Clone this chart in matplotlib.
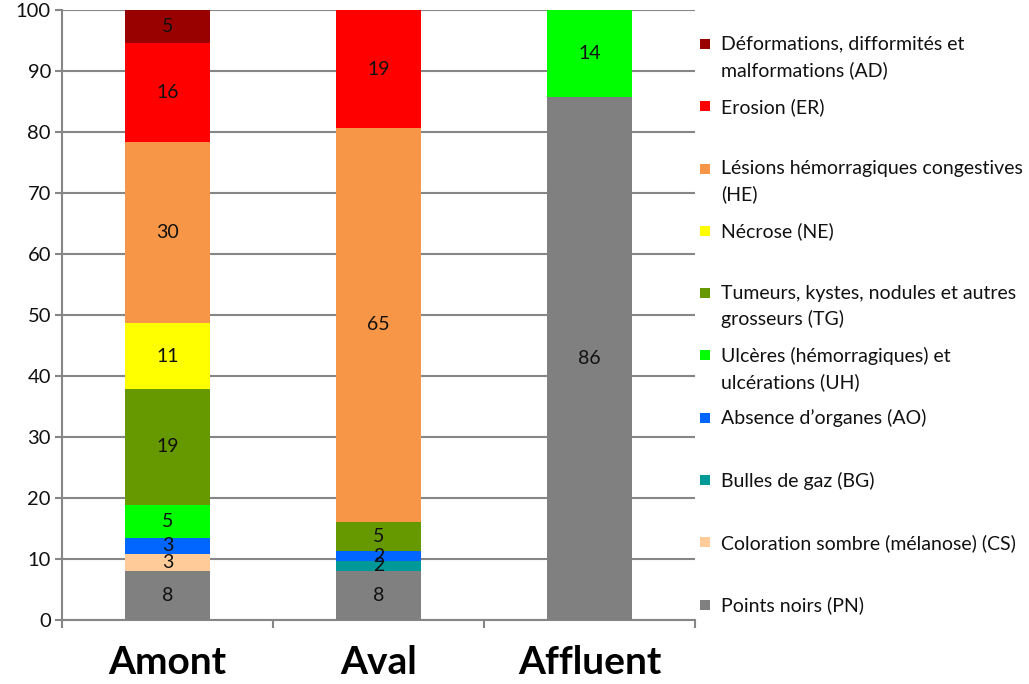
import matplotlib
matplotlib.use("Agg")
import matplotlib.pyplot as plt
from matplotlib.patches import Rectangle

plt.rcParams['font.family'] = ['Lato', 'DejaVu Sans']

# stations along the x axis
sites = ["Amont", "Aval", "Affluent"]

# anomaly categories, stacked bottom to top
codes = ["PN", "CS", "BG", "AO", "UH", "TG", "NE", "HE", "ER", "AD"]
names = [
    "Points noirs (PN)",
    "Coloration sombre (mélanose) (CS)",
    "Bulles de gaz (BG)",
    "Absence d\u2019organes (AO)",
    "Ulcères (hémorragiques) et\nulcérations (UH)",
    "Tumeurs, kystes, nodules et autres\ngrosseurs (TG)",
    "Nécrose (NE)",
    "Lésions hémorragiques congestives\n(HE)",
    "Erosion (ER)",
    "Déformations, difformités et\nmalformations (AD)",
]
colors = ["#808080", "#FFCC99", "#009999", "#0066FF", "#00FF00",
          "#669900", "#FFFF00", "#F79646", "#FF0000", "#990000"]

# percentage of each anomaly per station (same order as codes)
amont = [8.11, 2.70, 0, 2.70, 5.41, 18.92, 10.81, 29.73, 16.22, 5.41]
aval = [8.06, 0, 1.61, 1.61, 0, 4.84, 0, 64.52, 19.35, 0]
affluent = [85.71, 0, 0, 0, 14.29, 0, 0, 0, 0, 0]

values = [amont, aval, affluent]

fig = plt.figure(figsize=(10.29, 6.84), dpi=100)
ax = fig.add_axes([0.0603, 0.0936, 0.615, 0.8918])

x = list(range(len(sites)))
bottoms = [0.0] * len(sites)
for k, code in enumerate(codes):
    heights = [v[k] for v in values]
    ax.bar(x, heights, bottom=bottoms, width=0.4, color=colors[k],
           linewidth=0, zorder=3)
    for i, h in enumerate(heights):
        if h > 0:
            ax.text(x[i], bottoms[i] + h / 2, "%.0f" % h, ha="center",
                    va="center", fontsize=14, color="#111111", zorder=4)
    bottoms = [b + h for b, h in zip(bottoms, heights)]

ax.set_xlim(-0.5, 2.5)
ax.set_ylim(0, 100)
ax.set_yticks(range(0, 101, 10))
ax.tick_params(axis="y", labelsize=14.5, length=5, width=1.5, color="#868686",
               direction="out", pad=3, labelcolor="#111111")
ax.yaxis.grid(True, color="#868686", linewidth=1.5, zorder=0)

ax.set_xticks(x)
ax.set_xticklabels(sites, fontsize=28, fontweight="bold")
ax.tick_params(axis="x", which="major", length=0, pad=18)
ax.set_xticks([-0.5, 0.5, 1.5, 2.5], minor=True)
ax.tick_params(axis="x", which="minor", length=6, width=1.5, color="#868686")

for side in ["top", "right"]:
    ax.spines[side].set_visible(False)
for side in ["left", "bottom"]:
    ax.spines[side].set_color("#868686")
    ax.spines[side].set_linewidth(1.5)

# legend on the right, entries evenly pitched from the top
y0 = 0.944
pitch = 0.1021
for j, k in enumerate(reversed(range(len(codes)))):
    y = y0 - j * pitch
    ax.add_patch(Rectangle((1.008, y - 0.008), 0.0158, 0.0164,
                           transform=ax.transAxes, color=colors[k],
                           clip_on=False, linewidth=0))
    ax.text(1.041, y + 0.014, names[k], transform=ax.transAxes, ha="left",
            va="top", fontsize=14, linespacing=1.55, color="#111111")

fig.savefig("out.png", dpi=100)
